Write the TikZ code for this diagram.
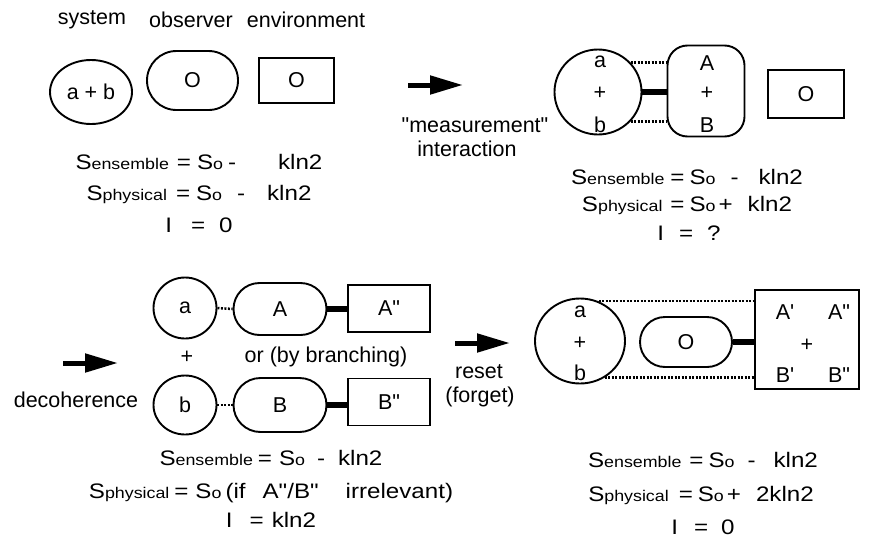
\documentclass[tikz,border=0pt]{standalone}
\usepackage{fontspec}
\newfontfamily\labfont{Liberation Sans}
\newfontfamily\eqfont{Liberation Sans}[FakeStretch=1.15]
\usetikzlibrary{shapes.geometric,shapes.misc,arrows.meta}

\newcommand\sub[1]{{\fontsize{15.5}{15.5}\selectfont #1}}
\newcommand\gap[1]{\hspace{#1pt}}

\tikzset{
  every node/.style={font=\labfont\fontsize{21.5}{24}\selectfont, inner sep=0pt},
  ball/.style={draw, ellipse, line width=1.9pt},
  pill/.style={draw, rounded rectangle, line width=1.9pt},
  crate/.style={draw, rectangle, line width=1.9pt},
  bond/.style={line width=6pt},
  link/.style={line width=2.5pt, dash pattern=on 2pt off 1.5pt},
  push/.style={line width=5pt, -{Triangle[length=33pt,width=18pt]}},
  eqn/.style={font=\eqfont\fontsize{21}{24}\selectfont},
}

\begin{document}
\begin{tikzpicture}[x=1pt, y=-1pt]
\useasboundingbox (0,0) rectangle (884,549);

% Stage 1: system, observer, environment
\node (lblSys) at (92,20)  {system};
\node (lblObs) at (191,20) {observer};
\node (lblEnv) at (306,20) {environment};

\node[ball, minimum width=82pt, minimum height=64pt] (sysA) at (91,92) {a + b};
\node[pill, minimum width=91pt, minimum height=59pt] (obsA) at (192.5,80.5) {O};
\node[crate, minimum width=75pt, minimum height=45pt] (envA) at (296.5,80.5) {O};

\node[eqn] (entA) at (199,162) {S\sub{ensemble}\gap{8}=\gap{6}S\sub{o}\gap{5}-\gap{42}kln2};
\node[eqn] (phyA) at (199,194) {S\sub{physical}\gap{9}=\gap{6}S\sub{o}\gap{15}-\gap{22}kln2};
\node[eqn] (infA) at (199,225) {I\gap{19}=\gap{14}0};

% Stage 2: "measurement" interaction
\coordinate (goA) at (408,85);
\coordinate (goB) at (463,85);
\draw[push] (goA) -- (goB);
\node (lblMeas) at (475,125) {"measurement"};
\node (lblInt)  at (467,149) {interaction};

\node[ball, minimum width=87pt, minimum height=85pt] (sysR) at (598,92) {};
\node (symRa) at (600,62)  {a};
\node (symRp) at (600,93)  {+};
\node (symRb) at (600,125) {b};
\node[crate, rounded corners=20pt, minimum width=77pt, minimum height=91pt] (obsR) at (706,91) {};
\node (symRA) at (707,63)  {A};
\node (symRP) at (707,93)  {+};
\node (symRB) at (707,125) {B};
\node[crate, minimum width=76pt, minimum height=48pt] (envR) at (806,94) {O};

\draw[bond] (sysR.east) -- (sysR.east -| obsR.west);
\draw[link] (sysR.42) -- (sysR.42 -| obsR.west);
\draw[link] (sysR.-42) -- (sysR.-42 -| obsR.west);

\node[eqn] (entR) at (687,177) {S\sub{ensemble}\gap{6}=\gap{5}S\sub{o}\gap{15}-\gap{20}kln2};
\node[eqn] (phyR) at (687,205) {S\sub{physical}\gap{8}=\gap{5}S\sub{o}\gap{3}+\gap{15}kln2};
\node[eqn] (infR) at (689,233) {I\gap{15}=\gap{14}?};

% Stage 3: decoherence
\coordinate (goC) at (63,363);
\coordinate (goD) at (118,363);
\draw[push] (goC) -- (goD);
\node (lblDec) at (76,400) {decoherence};

\node[ball, minimum width=63pt, minimum height=61pt] (sysLa) at (185,308) {a};
\node[ball, minimum width=63pt, minimum height=59pt] (sysLb) at (185,405) {b};
\node (lblPlus) at (187,357) {+};
\node[pill, minimum width=93pt, minimum height=52pt] (obsLA) at (280,309) {A};
\node[pill, minimum width=93pt, minimum height=54pt] (obsLB) at (280,405) {B};
\node (lblOr) at (326,357) {or (by branching)};
\node[crate, minimum width=82pt, minimum height=47pt] (envLA) at (389,308.5) {A"};
\node[crate, minimum width=82pt, minimum height=47pt] (envLB) at (389,402) {B"};

\draw[link] (sysLa.east) -- (obsLA.west);
\draw[link] (sysLb.east) -- (obsLB.west);
\draw[bond] (obsLA.east) -- (obsLA.east -| envLA.west);
\draw[bond] (obsLB.east) -- (obsLB.east -| envLB.west);

\node[eqn] (entL) at (271,458) {S\sub{ensemble}\gap{5}=\gap{7}S\sub{o}\gap{12}-\gap{13}kln2};
\node[eqn] (phyL) at (271,493) {S\sub{physical}\gap{5}=\gap{7}S\sub{o}\gap{4}(if\gap{17}A"/B"\gap{27}irrelevant)};
\node[eqn] (infL) at (271,520) {I\gap{17}=\gap{8}kln2};

% Stage 4: reset (forget)
\coordinate (goE) at (455,343);
\coordinate (goF) at (510,343);
\draw[push] (goE) -- (goF);
\node (lblRes) at (479,372) {reset};
\node (lblFor) at (480,397) {(forget)};

\node[ball, minimum width=90pt, minimum height=85pt] (sysD) at (580,341) {};
\node (symDa) at (580,312) {a};
\node (symDp) at (580,343) {+};
\node (symDb) at (580,373) {b};
\node[pill, minimum width=92pt, minimum height=50pt] (obsD) at (686,342) {O};
\node[crate, minimum width=104pt, minimum height=99pt] (envD) at (807,339.5) {};
\node (symDA)  at (785,312) {A'};
\node (symDAA) at (839,312) {A"};
\node (symDP)  at (807,345) {+};
\node (symDB)  at (785,375) {B'};
\node (symDBB) at (839,375) {B"};

\draw[bond] (obsD.east) -- (obsD.east -| envD.west);
\draw[link] (sysD.65) -- (sysD.65 -| envD.west);
\draw[link] (sysD.-56) -- (sysD.-56 -| envD.west);

\node[eqn] (entD) at (703,460) {S\sub{ensemble}\gap{8}=\gap{5}S\sub{o}\gap{13}-\gap{18}kln2};
\node[eqn] (phyD) at (701,495) {S\sub{physical}\gap{10}=\gap{5}S\sub{o}\gap{3}+\gap{15}2kln2};
\node[eqn] (infD) at (703,527) {I\gap{16}=\gap{13}0};

\end{tikzpicture}
\end{document}
